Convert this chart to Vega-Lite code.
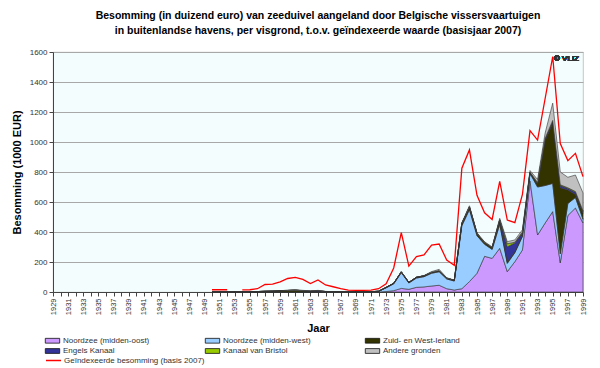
{
  "$schema": "https://vega.github.io/schema/vega-lite/v6.json",
  "width": 530,
  "height": 240,
  "autosize": {"type": "none"},
  "padding": {"left": 53, "top": 52, "right": 17, "bottom": 76},
  "background": "white",
  "config": {
    "font": "Liberation Sans",
    "view": {"fill": "#F3FDFD", "stroke": "#B8B8B8", "strokeWidth": 0.8},
    "axis": {"labelFont": "Liberation Sans", "labelColor": "#333333", "domainColor": "#444444", "tickColor": "#444444", "gridColor": "#A8A8A8", "titleFont": "Liberation Sans", "titleColor": "#000000"},
    "legend": {"labelFont": "Liberation Sans", "labelColor": "#333333", "labelFontSize": 8}
  },
  "title": {
    "text": ["Besomming (in duizend euro) van zeeduivel aangeland door Belgische vissersvaartuigen", "in buitenlandse havens, per visgrond, t.o.v. geïndexeerde waarde (basisjaar 2007)"],
    "fontSize": 10.5, "fontWeight": "bold", "color": "#000000", "anchor": "middle", "offset": 12, "lineHeight": 15, "font": "Liberation Sans"
  },
  "data": {"values": [
    {"Jaar": 1950, "MO": 0, "MW": 0, "ZWI": 0, "EK": 0, "KB": 0, "AG": 0, "IDX": 15},
    {"Jaar": 1951, "MO": 0, "MW": 0, "ZWI": 0, "EK": 0, "KB": 0, "AG": 0, "IDX": 15},
    {"Jaar": 1952, "MO": 0, "MW": 0, "ZWI": 0, "EK": 0, "KB": 0, "AG": 0, "IDX": 15},
    {"Jaar": 1953, "MO": 0, "MW": 0, "ZWI": 0, "EK": 0, "KB": 0, "AG": 0, "IDX": null},
    {"Jaar": 1954, "MO": 0, "MW": 0, "ZWI": 0, "EK": 0, "KB": 0, "AG": 0, "IDX": 14},
    {"Jaar": 1955, "MO": 0, "MW": 0, "ZWI": 0, "EK": 0, "KB": 0, "AG": 0, "IDX": 15},
    {"Jaar": 1956, "MO": 0, "MW": 0, "ZWI": 3, "EK": 0, "KB": 0, "AG": 0, "IDX": 22},
    {"Jaar": 1957, "MO": 0, "MW": 0, "ZWI": 5, "EK": 0, "KB": 0, "AG": 0, "IDX": 50},
    {"Jaar": 1958, "MO": 0, "MW": 0, "ZWI": 6, "EK": 0, "KB": 0, "AG": 0, "IDX": 52},
    {"Jaar": 1959, "MO": 0, "MW": 0, "ZWI": 8, "EK": 0, "KB": 0, "AG": 0, "IDX": 68},
    {"Jaar": 1960, "MO": 0, "MW": 0, "ZWI": 10, "EK": 0, "KB": 0, "AG": 3, "IDX": 90},
    {"Jaar": 1961, "MO": 0, "MW": 0, "ZWI": 12, "EK": 0, "KB": 0, "AG": 4, "IDX": 98},
    {"Jaar": 1962, "MO": 0, "MW": 0, "ZWI": 8, "EK": 0, "KB": 0, "AG": 3, "IDX": 84},
    {"Jaar": 1963, "MO": 0, "MW": 0, "ZWI": 3, "EK": 3, "KB": 0, "AG": 1, "IDX": 56},
    {"Jaar": 1964, "MO": 0, "MW": 0, "ZWI": 4, "EK": 5, "KB": 0, "AG": 2, "IDX": 80},
    {"Jaar": 1965, "MO": 0, "MW": 0, "ZWI": 3, "EK": 0, "KB": 0, "AG": 1, "IDX": 47},
    {"Jaar": 1966, "MO": 0, "MW": 0, "ZWI": 2, "EK": 0, "KB": 0, "AG": 0, "IDX": 35},
    {"Jaar": 1967, "MO": 0, "MW": 0, "ZWI": 0, "EK": 0, "KB": 0, "AG": 0, "IDX": 22},
    {"Jaar": 1968, "MO": 0, "MW": 0, "ZWI": 0, "EK": 0, "KB": 0, "AG": 0, "IDX": 13},
    {"Jaar": 1969, "MO": 0, "MW": 0, "ZWI": 0, "EK": 0, "KB": 0, "AG": 0, "IDX": 11},
    {"Jaar": 1970, "MO": 0, "MW": 0, "ZWI": 0, "EK": 0, "KB": 0, "AG": 0, "IDX": 11},
    {"Jaar": 1971, "MO": 0, "MW": 2, "ZWI": 0, "EK": 0, "KB": 0, "AG": 0, "IDX": 12},
    {"Jaar": 1972, "MO": 0, "MW": 5, "ZWI": 0, "EK": 0, "KB": 0, "AG": 0, "IDX": 22},
    {"Jaar": 1973, "MO": 3, "MW": 25, "ZWI": 3, "EK": 0, "KB": 0, "AG": 0, "IDX": 55},
    {"Jaar": 1974, "MO": 9, "MW": 45, "ZWI": 4, "EK": 0, "KB": 0, "AG": 0, "IDX": 160},
    {"Jaar": 1975, "MO": 24, "MW": 105, "ZWI": 5, "EK": 0, "KB": 0, "AG": 2, "IDX": 396},
    {"Jaar": 1976, "MO": 18, "MW": 42, "ZWI": 4, "EK": 0, "KB": 0, "AG": 0, "IDX": 173},
    {"Jaar": 1977, "MO": 31, "MW": 62, "ZWI": 5, "EK": 0, "KB": 0, "AG": 0, "IDX": 236},
    {"Jaar": 1978, "MO": 34, "MW": 68, "ZWI": 6, "EK": 0, "KB": 0, "AG": 2, "IDX": 247},
    {"Jaar": 1979, "MO": 40, "MW": 85, "ZWI": 6, "EK": 0, "KB": 0, "AG": 5, "IDX": 313},
    {"Jaar": 1980, "MO": 45, "MW": 90, "ZWI": 8, "EK": 0, "KB": 0, "AG": 8, "IDX": 320},
    {"Jaar": 1981, "MO": 22, "MW": 65, "ZWI": 5, "EK": 0, "KB": 0, "AG": 3, "IDX": 213},
    {"Jaar": 1982, "MO": 13, "MW": 60, "ZWI": 5, "EK": 0, "KB": 0, "AG": 2, "IDX": 178},
    {"Jaar": 1983, "MO": 22, "MW": 420, "ZWI": 15, "EK": 0, "KB": 0, "AG": 5, "IDX": 825},
    {"Jaar": 1984, "MO": 69, "MW": 480, "ZWI": 18, "EK": 0, "KB": 0, "AG": 8, "IDX": 947},
    {"Jaar": 1985, "MO": 125, "MW": 250, "ZWI": 15, "EK": 0, "KB": 0, "AG": 5, "IDX": 645},
    {"Jaar": 1986, "MO": 238, "MW": 80, "ZWI": 12, "EK": 0, "KB": 0, "AG": 5, "IDX": 528},
    {"Jaar": 1987, "MO": 224, "MW": 60, "ZWI": 12, "EK": 0, "KB": 0, "AG": 5, "IDX": 484},
    {"Jaar": 1988, "MO": 291, "MW": 160, "ZWI": 25, "EK": 5, "KB": 0, "AG": 10, "IDX": 738},
    {"Jaar": 1989, "MO": 136, "MW": 55, "ZWI": 10, "EK": 100, "KB": 20, "AG": 15, "IDX": 480},
    {"Jaar": 1990, "MO": 202, "MW": 60, "ZWI": 5, "EK": 60, "KB": 5, "AG": 15, "IDX": 462},
    {"Jaar": 1991, "MO": 280, "MW": 90, "ZWI": 10, "EK": 15, "KB": 5, "AG": 15, "IDX": 650},
    {"Jaar": 1992, "MO": 740, "MW": 50, "ZWI": 5, "EK": 3, "KB": 2, "AG": 10, "IDX": 1076},
    {"Jaar": 1993, "MO": 380, "MW": 320, "ZWI": 20, "EK": 5, "KB": 5, "AG": 20, "IDX": 1013},
    {"Jaar": 1994, "MO": 460, "MW": 250, "ZWI": 300, "EK": 10, "KB": 5, "AG": 35, "IDX": 1290},
    {"Jaar": 1995, "MO": 536, "MW": 188, "ZWI": 400, "EK": 12, "KB": 8, "AG": 115, "IDX": 1570},
    {"Jaar": 1996, "MO": 195, "MW": 60, "ZWI": 440, "EK": 15, "KB": 5, "AG": 85, "IDX": 990},
    {"Jaar": 1997, "MO": 510, "MW": 80, "ZWI": 90, "EK": 10, "KB": 5, "AG": 70, "IDX": 876},
    {"Jaar": 1998, "MO": 560, "MW": 70, "ZWI": 20, "EK": 15, "KB": 5, "AG": 110, "IDX": 924},
    {"Jaar": 1999, "MO": 460, "MW": 25, "ZWI": 40, "EK": 10, "KB": 5, "AG": 120, "IDX": 769}
  ]},
  "layer": [
    {
      "transform": [
        {"fold": ["MO", "MW", "ZWI", "EK", "KB", "AG"], "as": ["reeks", "waarde"]},
        {"calculate": "indexof(['MO','MW','ZWI','EK','KB','AG'], datum.reeks)", "as": "volgorde"}
      ],
      "mark": {"type": "area", "stroke": "#333333", "strokeWidth": 0.6, "opacity": 1},
      "encoding": {
        "x": {"field": "Jaar", "type": "quantitative",
              "scale": {"domain": [1929, 1999], "nice": false, "zero": false},
              "axis": {"tickCount": 70, "grid": false, "labelAngle": 270, "labelAlign": "right", "labelBaseline": "middle", "labelOverlap": false, "labelFontSize": 7.5, "labelPadding": 2, "tickSize": 4,
                       "labelExpr": "datum.value % 2 == 1 ? datum.value : ''",
                       "title": "Jaar", "titleFontSize": 11, "titleFontWeight": "bold", "titleY": 36, "titleBaseline": "middle"}},
        "y": {"field": "waarde", "type": "quantitative", "stack": "zero",
              "scale": {"domain": [0, 1600], "nice": false},
              "axis": {"values": [0, 200, 400, 600, 800, 1000, 1200, 1400, 1600], "format": "d", "labelOverlap": false, "grid": true, "labelFontSize": 8, "tickSize": 4, "labelPadding": 2,
                       "title": "Besomming (1000 EUR)", "titleFontSize": 11, "titleFontWeight": "bold", "titleX": -36, "titleY": 120, "titleAlign": "center", "titleBaseline": "middle", "titleAngle": 270}},
        "color": {"field": "reeks", "type": "nominal",
                  "scale": {"domain": ["MO", "MW", "ZWI", "EK", "KB", "AG"], "range": ["#CC99FF", "#99CCFF", "#333300", "#333399", "#99CC00", "#C0C0C0"]},
                  "legend": {"orient": "none", "legendX": -5, "legendY": 284, "columns": 3, "direction": "horizontal", "gridAlign": "all", "columnPadding": 52, "rowPadding": 1.5,
                             "symbolType": "M-1.8,-0.6H1.8V0.6H-1.8Z", "symbolSize": 64, "symbolStrokeColor": "#111111", "symbolStrokeWidth": 0.8, "symbolOpacity": 1, "labelOffset": 6, "title": null,
                             "labelExpr": "datum.label == 'MO' ? 'Noordzee (midden-oost)' : datum.label == 'MW' ? 'Noordzee (midden-west)' : datum.label == 'ZWI' ? 'Zuid- en West-Ierland' : datum.label == 'EK' ? 'Engels Kanaal' : datum.label == 'KB' ? 'Kanaal van Bristol' : 'Andere gronden'"}},
        "order": {"field": "volgorde", "type": "quantitative"}
      }
    },
    {
      "mark": {"type": "line", "strokeWidth": 1.3, "invalid": "break-paths-show-domains"},
      "encoding": {
        "x": {"field": "Jaar", "type": "quantitative"},
        "y": {"field": "IDX", "type": "quantitative",
              "axis": {"values": [0, 200, 400, 600, 800, 1000, 1200, 1400, 1600], "format": "d", "labelOverlap": false, "grid": true, "labelFontSize": 8, "tickSize": 4, "labelPadding": 2,
                       "title": "Besomming (1000 EUR)", "titleFontSize": 11, "titleFontWeight": "bold", "titleX": -36, "titleY": 120, "titleAlign": "center", "titleBaseline": "middle", "titleAngle": 270}},
        "stroke": {"datum": "Geïndexeerde besomming (basis 2007)", "type": "nominal",
                   "scale": {"domain": ["Geïndexeerde besomming (basis 2007)"], "range": ["#FF0000"]},
                   "legend": {"orient": "none", "legendX": -8, "legendY": 300, "title": null, "symbolSize": 225, "symbolStrokeWidth": 1.5, "labelOffset": 2}}
      }
    },
    {
      "mark": {"type": "text", "align": "right", "baseline": "top", "dx": -4, "dy": 3, "fontSize": 8, "fontWeight": "normal", "color": "#333333"},
      "encoding": {
        "x": {"datum": 1999, "type": "quantitative"},
        "y": {"datum": 1600, "type": "quantitative",
              "axis": {"values": [0, 200, 400, 600, 800, 1000, 1200, 1400, 1600], "format": "d", "labelOverlap": false, "grid": true, "labelFontSize": 8, "tickSize": 4, "labelPadding": 2,
                       "title": "Besomming (1000 EUR)", "titleFontSize": 11, "titleFontWeight": "bold", "titleX": -36, "titleY": 120, "titleAlign": "center", "titleBaseline": "middle", "titleAngle": 270}},
        "text": {"value": "© VLIZ"}
      }
    }
  ]
}
